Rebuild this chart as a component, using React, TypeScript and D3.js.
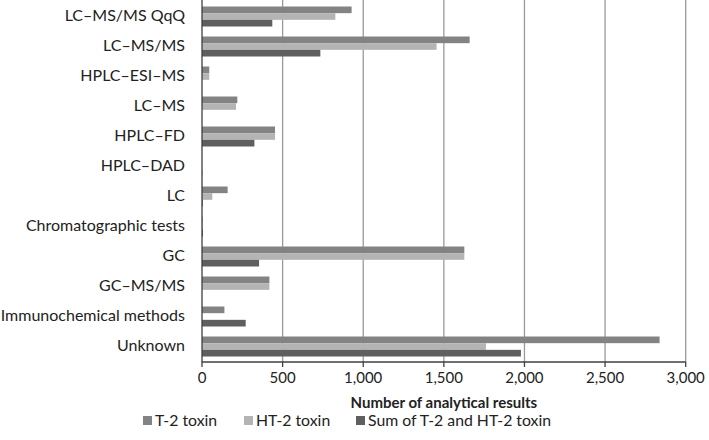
import React from "react";
import * as d3 from "d3";

const categories = [
  "LC–MS/MS QqQ",
  "LC–MS/MS",
  "HPLC–ESI–MS",
  "LC–MS",
  "HPLC–FD",
  "HPLC–DAD",
  "LC",
  "Chromatographic tests",
  "GC",
  "GC–MS/MS",
  "Immunochemical methods",
  "Unknown",
];
const seriesNames = ["T-2 toxin", "HT-2 toxin", "Sum of T-2 and HT-2 toxin"];
const t2Values = [928, 1660, 45, 219, 453, 0, 159, 4, 1627, 418, 139, 2838];
const ht2Values = [827, 1455, 45, 211, 453, 0, 64, 4, 1627, 418, 0, 1761];
const sumValues = [436, 734, 0, 0, 325, 2, 5, 6, 354, 0, 271, 1978];
const xTicks = [0, 500, 1000, 1500, 2000, 2500, 3000];
const colors = ["#838383", "#b4b4b4", "#5f5f5f"];

const W = 709;
const H = 440;
const left = 202;
const right = 685.7;
const top = 1.5;
const bottom = 361.5;
const font = "Lato, sans-serif";

export default function App() {
  const x = d3.scaleLinear().domain([0, 3000]).range([left, right]);
  const y = d3.scaleBand<string>().domain(categories).range([top, bottom]);
  const inner = d3
    .scaleBand<number>()
    .domain([0, 1, 2])
    .range([y.bandwidth() / 6, (y.bandwidth() * 5) / 6]);
  const series = [t2Values, ht2Values, sumValues];
  const fmt = d3.format(",");
  const legendX = [143, 244, 356];

  return (
    <svg
      width={W}
      height={H}
      style={{ position: "absolute", left: 0, top: 0, background: "#fff" }}
      fontFamily={font}
    >
      {xTicks.slice(1).map((t) => (
        <line key={t} x1={x(t)} x2={x(t)} y1={0} y2={bottom} stroke="#9a9a9a" strokeWidth={1.3} />
      ))}
      {series.map((vals, si) =>
        vals.map((v, i) =>
          v > 0 ? (
            <rect
              key={`${si}-${i}`}
              x={x(0)}
              y={(y(categories[i]) as number) + (inner(si) as number)}
              width={x(v) - x(0)}
              height={inner.bandwidth()}
              fill={colors[si]}
            />
          ) : null
        )
      )}
      <line x1={left} x2={left} y1={0} y2={bottom + 0.5} stroke="#404040" strokeWidth={1.3} />
      <line x1={left} x2={right} y1={bottom + 0.5} y2={bottom + 0.5} stroke="#404040" strokeWidth={1.3} />
      {xTicks.map((t) => (
        <g key={t}>
          <line x1={x(t)} x2={x(t)} y1={bottom} y2={bottom + 5.5} stroke="#404040" strokeWidth={1.3} />
          <text x={x(t)} y={382.5} textAnchor="middle" fontSize={15} fill="#222">
            {fmt(t)}
          </text>
        </g>
      ))}
      {categories.map((c) => (
        <text
          key={c}
          x={185}
          y={(y(c) as number) + y.bandwidth() / 2 - 1}
          dy="0.35em"
          textAnchor="end"
          fontSize={16}
          fill="#222"
        >
          {c}
        </text>
      ))}
      <text x={(left + right) / 2} y={408} textAnchor="middle" fontSize={15} fontWeight="bold" fill="#222">
        Number of analytical results
      </text>
      {seriesNames.map((n, i) => (
        <g key={n}>
          <rect x={legendX[i]} y={416} width={9} height={9} fill={colors[i]} />
          <text x={legendX[i] + 12} y={425.5} fontSize={15.8} fill="#222">
            {n}
          </text>
        </g>
      ))}
    </svg>
  );
}
